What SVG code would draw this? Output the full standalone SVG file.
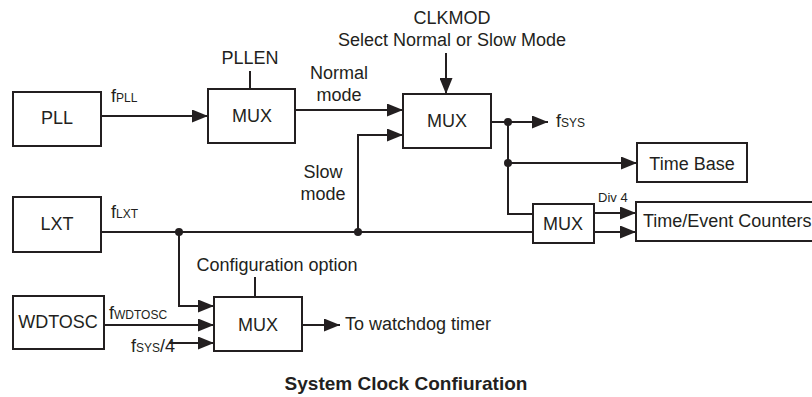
<svg xmlns="http://www.w3.org/2000/svg" width="812" height="397" viewBox="0 0 812 397">
<defs>
<style>
.box{fill:#fff;stroke:#231f20;stroke-width:2}
.ln{fill:none;stroke:#231f20;stroke-width:2}
.ar{marker-end:url(#ah)}
text{font-family:"Liberation Sans",Arial,sans-serif;fill:#231f20;font-size:18px}
.c{text-anchor:middle}
.sub{font-size:12px}
.sm{font-size:13px}
.title{font-weight:bold;font-size:19px}
.dot{fill:#231f20}
</style>
<marker id="ah" markerUnits="userSpaceOnUse" markerWidth="16" markerHeight="13" refX="16" refY="6.5" orient="auto">
<path d="M0,0 L16,6.5 L0,13 z" fill="#231f20"/>
</marker>
</defs>
<rect width="812" height="397" fill="#fff"/>

<g id="connectors">
<path class="ln ar" d="M101 116 H208"/>
<path class="ln ar" d="M295 110 H403"/>
<path class="ln ar" d="M358 232 V135 H403"/>
<path class="ln ar" d="M446 53 V94"/>
<path class="ln ar" d="M491 122 H548"/>
<path class="ln" d="M508 122 V214 H533"/>
<path class="ln ar" d="M508 163 H637"/>
<path class="ln" d="M101 232 H533"/>
<path class="ln ar" d="M179 232 V306 H214"/>
<path class="ln ar" d="M104 325 H214"/>
<path class="ln ar" d="M169 343 H214"/>
<path class="ln" d="M250 71 V89"/>
<path class="ln" d="M255 277 V297"/>
<path class="ln ar" d="M302 325 H340"/>
<path class="ln ar" d="M594 213 H636"/>
<path class="ln ar" d="M594 232 H636"/>
<circle class="dot" cx="508" cy="122" r="4"/>
<circle class="dot" cx="508" cy="163" r="4"/>
<circle class="dot" cx="179" cy="232" r="4"/>
<circle class="dot" cx="358" cy="232" r="4"/>
</g>

<g id="pll">
<rect class="box" x="13" y="92" width="88" height="54"/>
<text class="c" x="57" y="124">PLL</text>
</g>
<text x="111" y="102">f<tspan class="sub">PLL</tspan></text>

<g id="mux1">
<rect class="box" x="208" y="89" width="87" height="54"/>
<text class="c" x="252" y="122">MUX</text>
</g>
<text class="c" x="250" y="64">PLLEN</text>
<text class="c" x="339" y="79">Normal</text>
<text class="c" x="339" y="101">mode</text>

<g id="mux2">
<rect class="box" x="403" y="94" width="88" height="54"/>
<text class="c" x="447" y="127">MUX</text>
</g>
<text class="c" x="452" y="24">CLKMOD</text>
<text class="c" x="452" y="46">Select Normal or Slow Mode</text>
<text class="c" x="323" y="178">Slow</text>
<text class="c" x="323" y="200">mode</text>
<text x="556" y="127">f<tspan class="sub">SYS</tspan></text>

<g id="timebase">
<rect class="box" x="637" y="143" width="110" height="39"/>
<text class="c" x="692" y="170">Time Base</text>
</g>

<g id="mux3">
<rect class="box" x="533" y="204" width="61" height="39"/>
<text class="c" x="563" y="230">MUX</text>
</g>
<text class="sm" x="598" y="202">Div 4</text>

<g id="counters">
<rect class="box" x="636" y="202" width="200" height="39"/>
<text x="643" y="227">Time/Event Counters</text>
</g>

<g id="lxt">
<rect class="box" x="13" y="197" width="88" height="55"/>
<text class="c" x="57" y="230">LXT</text>
</g>
<text x="111" y="218">f<tspan class="sub">LXT</tspan></text>

<g id="wdtosc">
<rect class="box" x="13" y="296" width="91" height="53"/>
<text class="c" x="58" y="328">WDTOSC</text>
</g>
<text x="109" y="319">f<tspan class="sub">WDTOSC</tspan></text>
<text x="131" y="352">f<tspan class="sub">SYS</tspan>/4</text>

<g id="mux4">
<rect class="box" x="214" y="297" width="88" height="54"/>
<text class="c" x="258" y="331">MUX</text>
</g>
<text class="c" x="277" y="271">Configuration option</text>
<text x="345" y="330">To watchdog timer</text>

<text class="c title" x="406" y="390">System Clock Confiuration</text>
</svg>
